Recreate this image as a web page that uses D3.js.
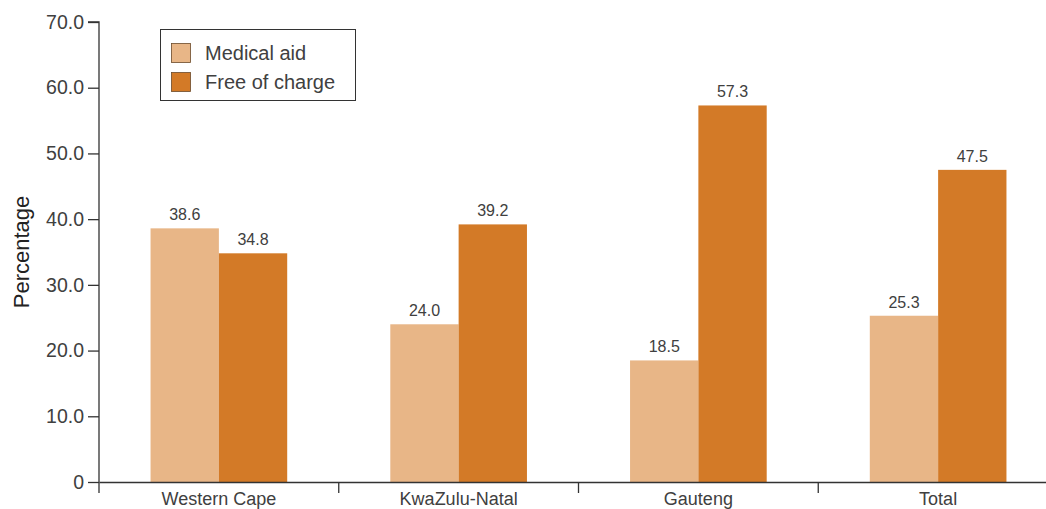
<!DOCTYPE html>
<html>
<head>
<meta charset="utf-8">
<script src="https://cdn.jsdelivr.net/npm/d3@7"></script>
<style>
  html, body { margin: 0; padding: 0; background: #fff; }
  svg { display: block; font-family: "Liberation Sans", Arial, sans-serif; }
</style>
</head>
<body>
<svg id="chart" width="1046" height="509"></svg>
<script>
// Health-care payment source by province (percentage)
const categories = ["Western Cape", "KwaZulu-Natal", "Gauteng", "Total"];
const seriesNames = ["Medical aid", "Free of charge"];
const medicalAid = [38.6, 24.0, 18.5, 25.3];
const freeOfCharge = [34.8, 39.2, 57.3, 47.5];
const yTicks = [0, 10, 20, 30, 40, 50, 60, 70];
const colors = ["#E8B687", "#D37A27"];

const seriesValues = [medicalAid, freeOfCharge];
const rows = categories.map((c, i) => ({
  category: c,
  values: seriesNames.map((s, j) => ({ series: s, value: seriesValues[j][i] }))
}));

const svg = d3.select("#chart");
const axisColor = "#333";
const textColor = "#404040";

const x0 = d3.scaleBand().domain(categories).range([99, 1058]).paddingInner(0).paddingOuter(0);
const groupFrac = 0.57;
const x1 = d3.scaleBand().domain(seriesNames)
  .range([0, x0.bandwidth() * groupFrac]);
const y = d3.scaleLinear().domain([0, 70]).range([482, 22]);
const color = d3.scaleOrdinal().domain(seriesNames).range(colors);

// Bars
const groups = svg.append("g").selectAll("g")
  .data(rows).join("g")
  .attr("transform", d => `translate(${x0(d.category) + x0.bandwidth() * (1 - groupFrac) / 2},0)`);

groups.selectAll("rect")
  .data(d => d.values).join("rect")
  .attr("x", d => x1(d.series))
  .attr("width", x1.bandwidth())
  .attr("y", d => y(d.value))
  .attr("height", d => y(0) - y(d.value))
  .attr("fill", d => color(d.series));

// Value labels
groups.selectAll("text")
  .data(d => d.values).join("text")
  .attr("x", d => x1(d.series) + x1.bandwidth() / 2)
  .attr("y", d => y(d.value) - 8)
  .attr("text-anchor", "middle")
  .attr("font-size", 16)
  .attr("fill", textColor)
  .text(d => d.value.toFixed(1));

// Y axis
const yAxis = svg.append("g")
  .attr("transform", "translate(99,0)")
  .call(d3.axisLeft(y).tickValues(yTicks).tickSize(11).tickPadding(4)
    .tickFormat(d => d === 0 ? "0" : d.toFixed(1)));
yAxis.select(".domain").attr("stroke", axisColor).attr("stroke-width", 1.3)
  .attr("d", `M-11,${y(70)}H0V493`);
yAxis.selectAll(".tick line").attr("stroke", axisColor).attr("stroke-width", 1.3);
yAxis.selectAll(".tick text")
  .attr("font-size", 19.5)
  .attr("fill", textColor)
  .attr("font-family", "Liberation Sans, Arial, sans-serif");

// X axis
const xAxis = svg.append("g")
  .attr("transform", `translate(0,${y(0)})`)
  .call(d3.axisBottom(x0).tickSize(0).tickPadding(9));
xAxis.select(".domain").attr("stroke", axisColor).attr("stroke-width", 1.3);
xAxis.selectAll(".tick text")
  .attr("font-size", 18)
  .attr("dy", null)
  .attr("y", 23)
  .attr("fill", textColor)
  .attr("font-family", "Liberation Sans, Arial, sans-serif");

// Category boundary ticks
xAxis.append("g").selectAll("line")
  .data(categories.slice(1)).join("line")
  .attr("x1", d => x0(d)).attr("x2", d => x0(d))
  .attr("y1", 0).attr("y2", 11)
  .attr("stroke", axisColor).attr("stroke-width", 1.3);

// Y axis title
svg.append("text")
  .attr("transform", `translate(29,${(y(0) + y(70)) / 2}) rotate(-90)`)
  .attr("text-anchor", "middle")
  .attr("font-size", 22)
  .attr("fill", "#222")
  .text("Percentage");

// Legend
const legend = svg.append("g");
legend.append("rect")
  .attr("x", 160.5).attr("y", 29.5)
  .attr("width", 195).attr("height", 71)
  .attr("fill", "#fff").attr("stroke", axisColor).attr("stroke-width", 1);
const items = legend.selectAll("g.item")
  .data(seriesNames).join("g").attr("class", "item")
  .attr("transform", (d, i) => `translate(171,${43 + i * 29})`);
items.append("rect")
  .attr("x", 0.5).attr("y", 0.5)
  .attr("width", 19).attr("height", 19)
  .attr("fill", d => color(d))
  .attr("stroke", "#6b4a2a").attr("stroke-width", 0.8);
items.append("text")
  .attr("x", 34).attr("y", 17)
  .attr("font-size", 20)
  .attr("fill", textColor)
  .text(d => d);
</script>
</body>
</html>
